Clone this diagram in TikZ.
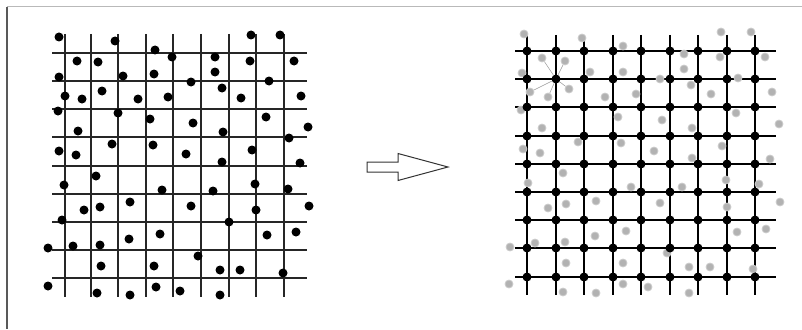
\documentclass[tikz,border=0pt]{standalone}
\usetikzlibrary{positioning}

\begin{document}
\begin{tikzpicture}[
    x=1pt, y=-1pt,
    % scattered points (left) and the snapped lattice (right)
    dot/.style={circle, fill=black, inner sep=0pt, minimum size=9pt},
    ghost/.style={circle, fill=gray!60, draw=gray!40, line width=0.8pt, inner sep=0pt, minimum size=8pt},
    knot/.style={circle, fill=black, inner sep=0pt, minimum size=9pt},
    thinline/.style={line width=1.1pt, black!85},
    thickline/.style={line width=1.7pt, black},
    spoke/.style={line width=0.5pt, gray!80}
]
    \useasboundingbox (0,0) rectangle (802,329);

    % frame
    \draw[gray!55, line width=1pt] (7,7) -- (802,7);
    \draw[gray!70!black, line width=1.2pt] (7,7) -- (7,329);

    % left grid
    \foreach \x in {65,91,118,146,173,201,229,256,284}
        \draw[thinline] (\x,34) -- (\x,297);
    \foreach \y in {53,81,109,137,166,194,222,250,278}
        \draw[thinline] (52,\y) -- (307,\y);

    % left scattered points
    \foreach \x/\y [count=\i] in {59/37,115/41,251/35,280/35,155/50,77/61,98/62,172/57,215/57,250/61,
        294/61,59/77,123/76,154/74,215/72,191/82,269/81,65/96,82/99,102/91,
        138/99,168/97,222/88,241/98,301/96,58/111,118/113,150/119,193/123,266/117,
        78/131,223/132,308/127,289/138,112/144,59/151,76/155,153/145,186/154,252/150,
        222/162,300/163,96/176,64/185,162/190,213/191,255/184,288/189,84/210,100/207,
        130/202,191/206,256/210,309/206,62/220,229/222,48/248,73/246,100/245,129/239,
        160/234,267/235,296/232,198/256,101/266,154/266,220/270,240/270,283/273,48/286,
        97/293,130/295,156/287,180/291,220/295}
        \node[dot] (a\i) at (\x,\y) {};

    % arrow
    \coordinate (tail) at (367,162);
    \draw[line width=1pt, black!80, fill=white] (tail) -- ++(31,0) -- ++(0,-8.5)
        -- ++(50,13.5) -- ++(-50,13.5) -- ++(0,-8.5) -- ++(-31,0) -- cycle;

    % right grid
    \foreach \x in {527,556,584,613,641,670,698,727,755}
        \draw[thickline] (\x,35) -- (\x,295);
    \foreach \y in {51,79,107,136,164,192,220,248,277}
        \draw[thickline] (515,\y) -- (776,\y);

    % original points, shown in grey
    \foreach \x/\y [count=\i] in {524/34,582/38,721/32,751/32,623/46,684/54,720/57,765/57,
        522/73,590/72,623/72,684/69,660/79,738/78,605/97,636/94,691/85,711/94,772/92,
        521/110,618/117,662/120,736/113,542/128,692/128,779/124,
        523/149,540/153,578/142,621/143,654/151,722/146,692/158,770/159,
        563/173,528/183,631/187,682/187,726/180,759/184,
        548/208,566/204,596/201,660/203,727/207,780/202,
        535/243,565/242,510/247,595/236,626/231,737/232,766/229,
        667/253,566/263,623/263,689/267,710/267,753/269,
        509/284,563/292,596/293,623/284,648/287,689/293}
        \node[ghost] (p\i) at (\x,\y) {};

    % points pulled toward one lattice knot
    \node[ghost] (s1) at (542,58) {};
    \node[ghost] (s2) at (565,61) {};
    \node[ghost] (s3) at (530,92) {};
    \node[ghost] (s4) at (548,97) {};
    \node[ghost] (s5) at (569,89) {};

    % lattice knots
    \foreach \x [count=\i] in {527,556,584,613,641,670,698,727,755}
        \foreach \y [count=\j] in {51,79,107,136,164,192,220,248,277}
            \node[knot] (k-\i-\j) at (\x,\y) {};

    \foreach \s in {s1,s2,s3,s4,s5}
        \draw[spoke] (k-2-2) -- (\s);
\end{tikzpicture}
\end{document}
